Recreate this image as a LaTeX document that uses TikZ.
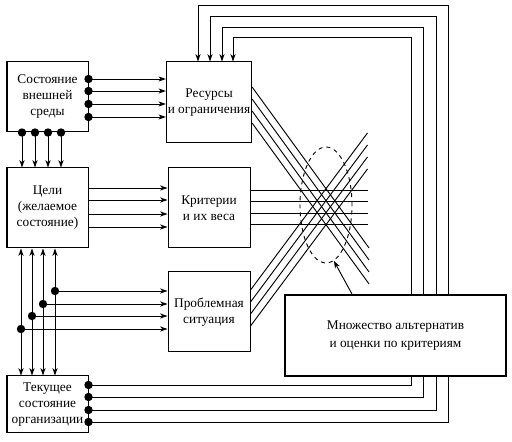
\documentclass[tikz,border=0pt]{standalone}
\usepackage{fontspec}
\setmainfont{Liberation Serif}
\usetikzlibrary{arrows.meta,shapes.geometric}

\begin{document}
\begin{tikzpicture}[x=0.75pt,y=-0.75pt,line width=0.7pt,
  box/.style={draw,line width=0.75pt,align=center,inner sep=1pt,
    font=\fontsize{10}{12}\selectfont},
  link/.style={-{Stealth[length=5.5pt,width=3.8pt,inset=1.5pt]}},
  both/.style={{Stealth[length=5.5pt,width=3.8pt,inset=1.5pt]}-{Stealth[length=5.5pt,width=3.8pt,inset=1.5pt]}},
  dot/.style={circle,fill,inner sep=0pt,minimum size=6.3pt}]
\useasboundingbox (0,0) rectangle (512,442);

\path (47.5,97)    node[box,minimum width=60.75pt,minimum height=52.5pt] (A) {Состояние\\внешней\\среды};
\path (209,102.5)  node[box,minimum width=61.5pt,minimum height=60.75pt] (B) {Ресурсы\\и ограничения};
\path (47.5,208)   node[box,minimum width=60.75pt,minimum height=60pt] (C) {Цели\\(желаемое\\состояние)};
\path (209,208)    node[box,minimum width=61.5pt,minimum height=60pt] (D) {Критерии\\и их веса};
\path (209,312)    node[box,minimum width=61.5pt,minimum height=60pt] (E) {Проблемная\\ситуация};
\path (47.5,404.5) node[box,minimum width=60.75pt,minimum height=42.75pt] (F) {Текущее\\состояние\\организации};

% environment -> resources, goals
\foreach \y in {79,91,104,117}
  \draw[link] (A.east |- 0,\y) node[dot]{} -- (B.west |- 0,\y);
\foreach \x in {22,35,48,61}
  \draw[link] (A.south -| \x,0) node[dot]{} -- (C.north -| \x,0);

% goals -> criteria
\foreach \y in {188,200,214,227}
  \draw[link] (C.east |- 0,\y) -- (D.west |- 0,\y);

% goals <-> current state
\foreach \x in {21,32,43,55}
  \draw[both] (C.south -| \x,0) -- (F.north -| \x,0);
\foreach \x/\y [count=\i] in {55/291,43/304,32/316,21/329}{
  \coordinate (tap\i) at (\x,\y);
  \draw[link] (tap\i) node[dot]{} -- (tap\i -| E.west);
}

% current state -> resources
\foreach \yb/\xv/\yt/\xa in {385/411/37/233,397/423/27/222,410/436/16/210,422/448/5/198}
  \draw[link] (F.east |- 0,\yb) node[dot]{} -| (\xv,\yt) -| (B.north -| \xa,0);

% crossing
\foreach \y in {87,99,111,123}
  \draw (B.east |- 0,\y) -- ++(117,161);
\foreach \y in {190,201,213,224}
  \draw (D.east |- 0,\y) -- ++(117,0);
\foreach \y in {290,302,314,326}
  \draw (E.east |- 0,\y) -- ++(117,-157);

\path (326,205) node[draw,dashed,ellipse,inner sep=0pt,minimum width=39pt,minimum height=87pt] (zone) {};

\path (395.5,335.5) node[box,fill=white,line width=1.6pt,minimum width=165.75pt,minimum height=60.75pt] (G) {Множество альтернатив\\[2pt]и оценки по критериям};
\draw[link] ([xshift=51pt]G.north west) -- (zone.-82);
\end{tikzpicture}
\end{document}
